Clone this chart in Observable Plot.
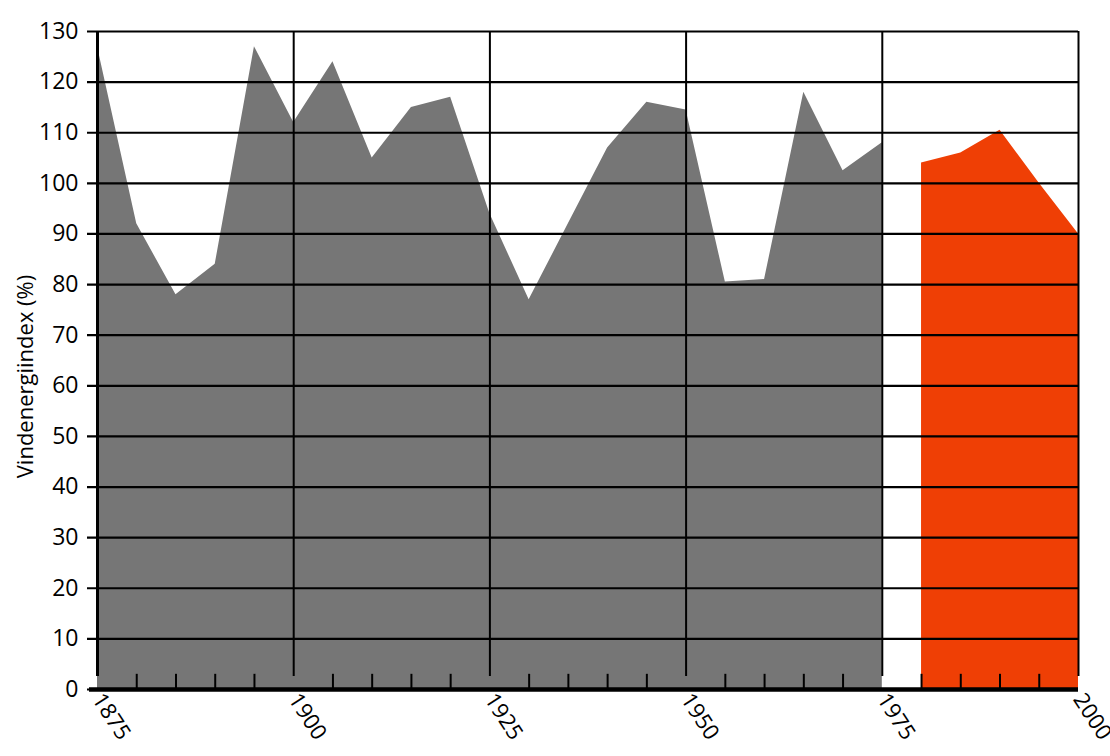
<!DOCTYPE html>
<html>
<head>
<meta charset="utf-8">
<script src="https://cdn.jsdelivr.net/npm/d3@7"></script>
<script src="https://cdn.jsdelivr.net/npm/@observablehq/plot@0.6"></script>
<style>
  html, body { margin: 0; padding: 0; background: #fff; }
  #chart svg { display: block; }
</style>
</head>
<body>
<div id="chart"></div>
<script>
// Historical (grey) series
const histYears = [1875, 1880, 1885, 1890, 1895, 1900, 1905, 1910, 1915, 1920, 1925, 1930, 1935, 1940, 1945, 1950, 1955, 1960, 1965, 1970, 1975];
const histValues = [127, 92, 78, 84, 127, 112, 124, 105, 115, 117, 94, 77, 92, 107, 116, 114.5, 80.5, 81, 118, 102.5, 108];
// Recent (orange) series
const recentYears = [1980, 1985, 1990, 1995, 2000];
const recentValues = [104, 106, 110.5, 100, 90];
// Axis ticks
const yTicks = [0, 10, 20, 30, 40, 50, 60, 70, 80, 90, 100, 110, 120, 130];
const majorYears = [1875, 1900, 1925, 1950, 1975, 2000];
const minorYears = [1880, 1885, 1890, 1895, 1905, 1910, 1915, 1920, 1930, 1935, 1940, 1945, 1955, 1960, 1965, 1970, 1980, 1985, 1990, 1995];
const yLabel = "Vindenergiindex (%)";

const hist = histYears.map((year, i) => ({year, value: histValues[i]}));
const recent = recentYears.map((year, i) => ({year, value: recentValues[i]}));

const chart = Plot.plot({
  width: 1110,
  height: 756,
  marginLeft: 97,
  marginRight: 32,
  marginTop: 31,
  marginBottom: 67,
  style: {fontFamily: "'Open Sans', sans-serif", background: "#fff", color: "#000"},
  x: {domain: [1875, 2000], type: "linear"},
  y: {domain: [0, 130]},
  marks: [
    Plot.areaY(hist, {x: "year", y: "value", fill: "#767676"}),
    Plot.areaY(recent, {x: "year", y: "value", fill: "#EF3F05"}),
    Plot.ruleY(yTicks, {x1: 1875, x2: 2000, stroke: "#000", strokeWidth: 2.2, insetLeft: -10}),
    Plot.ruleX(majorYears, {y1: 0, y2: 130, insetTop: -13, stroke: "#000", strokeWidth: 2}),
    Plot.ruleX(minorYears, {y1: 0, y2: 3, stroke: "#000", strokeWidth: 2}),
    Plot.ruleX([1875], {y1: 0, y2: 130, insetTop: -13, stroke: "#000", strokeWidth: 3}),
    Plot.ruleY([0], {x1: 1875, x2: 2000, insetLeft: -8, stroke: "#000", strokeWidth: 4.5}),
    Plot.axisY({ticks: yTicks, tickSize: 0, tickPadding: 19, fontSize: 23, label: null}),
    Plot.axisX({ticks: majorYears, tickSize: 0, tickPadding: 6, tickRotate: 57, fontSize: 22, label: null, tickFormat: d => String(d)}),
    Plot.text([yLabel], {frameAnchor: "left", textAnchor: "middle", rotate: -90, dx: -72, dy: 16, fontSize: 22, fill: "#000"})
  ]
});
document.getElementById("chart").appendChild(chart);
</script>
</body>
</html>
